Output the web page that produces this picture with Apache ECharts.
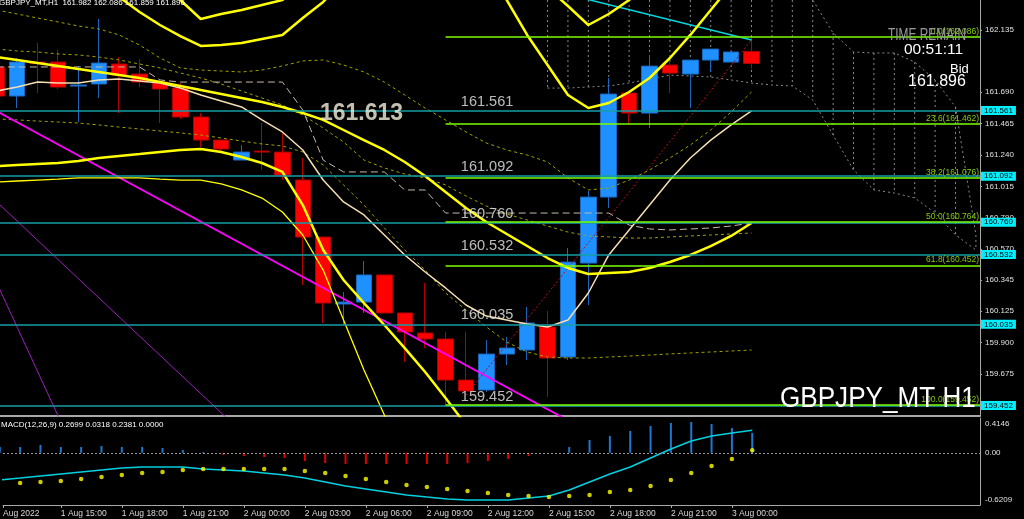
<!DOCTYPE html>
<html>
<head>
<meta charset="utf-8">
<script src="https://cdn.jsdelivr.net/npm/echarts@6/dist/echarts.min.js"></script>
<style>
html,body{margin:0;padding:0;background:#000;overflow:hidden}
#chart{width:1024px;height:519px}
</style>
</head>
<body>
<div id="chart"></div>
<script>
// ---------------- DATA ----------------
// H1 bars, x value = bar number (0 = 1 Aug 2022 12:00)
const barTimes = ['1 Aug 12:00','1 Aug 13:00','1 Aug 14:00','1 Aug 15:00','1 Aug 16:00','1 Aug 17:00','1 Aug 18:00','1 Aug 19:00','1 Aug 20:00','1 Aug 21:00','1 Aug 22:00','1 Aug 23:00','2 Aug 00:00','2 Aug 01:00','2 Aug 02:00','2 Aug 03:00','2 Aug 04:00','2 Aug 05:00','2 Aug 06:00','2 Aug 07:00','2 Aug 08:00','2 Aug 09:00','2 Aug 10:00','2 Aug 11:00','2 Aug 12:00','2 Aug 13:00','2 Aug 14:00','2 Aug 15:00','2 Aug 16:00','2 Aug 17:00','2 Aug 18:00','2 Aug 19:00','2 Aug 20:00','2 Aug 21:00','2 Aug 22:00','2 Aug 23:00','3 Aug 00:00','3 Aug 01:00'];
const openP  = [161.870,161.663,161.906,161.906,161.734,161.749,161.892,161.820,161.763,161.720,161.513,161.348,161.205,161.269,161.262,161.062,160.654,160.175,160.189,160.383,160.111,159.968,159.925,159.631,159.560,159.817,159.846,160.011,159.796,160.468,160.940,161.684,161.541,161.885,161.820,161.920,161.906,161.982];
const closeP = [161.663,161.906,161.895,161.727,161.742,161.899,161.813,161.763,161.713,161.513,161.348,161.284,161.262,161.262,161.098,160.654,160.182,160.189,160.383,160.111,159.975,159.925,159.631,159.553,159.817,159.860,160.039,159.789,160.475,160.940,161.677,161.541,161.877,161.827,161.920,161.999,161.978,161.896];
const lowP   = [161.634,161.577,161.684,161.713,161.477,161.649,161.541,161.727,161.470,161.498,161.298,161.255,161.205,161.134,161.062,160.311,160.039,160.025,160.111,160.111,159.760,159.860,159.452,159.553,159.546,159.739,159.774,159.510,159.774,160.168,160.862,161.470,161.434,161.684,161.577,161.835,161.906,161.859];
const highP  = [161.906,161.935,162.042,161.992,161.877,162.214,161.942,161.928,161.777,161.756,161.541,161.348,161.312,161.470,161.398,161.220,160.654,160.261,160.483,160.383,160.111,160.325,159.975,159.975,159.918,159.939,160.154,160.125,160.576,160.983,161.792,161.684,161.956,161.920,161.920,161.999,161.978,162.086];

// thick yellow moving average
const maYellow = [161.942,161.921,161.899,161.878,161.856,161.835,161.813,161.792,161.763,161.735,161.706,161.678,161.649,161.620,161.585,161.542,161.492,161.420,161.348,161.277,161.191,161.091,160.976,160.862,160.762,160.676,160.590,160.504,160.433,160.390,160.397,160.404,160.433,160.476,160.526,160.590,160.662,160.755];
// thick yellow bands
const bandUpper1 = [162.9,162.85,162.8,162.75,162.65,162.493,162.371,162.264,162.171,162.092,162.021,162.028,162.042,162.071,162.100,162.221,162.336,162.493,162.7,162.8,162.85,162.85,162.8,162.7,162.565,162.350,162.100,161.885,161.670,161.577,161.613,161.692,161.792,161.935,162.100,162.278,162.457,162.636];
const bandUpper2 = [163.2,163.1,163.0,162.9,162.8,162.7,162.62,162.56,162.529,162.350,162.214,162.250,162.278,162.314,162.350,162.457,162.6,162.75,162.9,163.0,163.05,163.05,163.0,162.95,162.85,162.75,162.636,162.436,162.307,162.171,162.250,162.350,162.493,162.65,162.8,162.95,163.1,163.25];
const bandLower1 = [161.162,161.170,161.177,161.184,161.198,161.220,161.234,161.248,161.263,161.277,161.284,161.263,161.227,161.184,161.120,160.883,160.562,160.347,160.182,160.025,159.860,159.689,159.503,159.310,159.131];
const bandLower2 = [161.048,161.055,161.062,161.069,161.077,161.077,161.077,161.077,161.069,161.062,161.062,161.034,160.991,160.933,160.833,160.669,160.418,160.061,159.703,159.381,159.059];
// thin wheat line
const maWheat = [161.699,161.728,161.763,161.756,161.756,161.778,161.785,161.771,161.756,161.720,161.670,161.627,161.585,161.492,161.406,161.277,161.062,160.905,160.812,160.669,160.526,160.404,160.290,160.168,160.089,160.061,160.032,160.011,160.061,160.254,160.526,160.705,160.883,161.062,161.220,161.348,161.456,161.556];
// dashed stepped line
const kijun = [161.871,161.871,161.871,161.871,161.871,161.871,161.871,161.871,161.778,161.763,161.763,161.763,161.763,161.763,161.763,161.563,161.205,161.120,161.120,161.120,160.991,160.991,160.826,160.826,160.826,160.826,160.826,160.826,160.826,160.826,160.826,160.740,160.712,160.705,160.712,160.719,160.733,160.755];
// olive dotted envelopes
const envUpper = [162.278,162.250,162.221,162.193,162.164,162.143,162.100,162.028,161.935,161.864,161.849,161.842,161.835,161.849,161.878,161.914,161.921,161.885,161.835,161.763,161.670,161.577,161.492,161.406,161.327,161.277,161.241,161.191,161.077,160.991,161.005,161.062,161.134,161.220,161.313,161.420,161.549,161.692];
const envMid = [162.000,161.985,161.978,161.964,161.957,161.942,161.921,161.892,161.864,161.828,161.792,161.749,161.699,161.649,161.599,161.527,161.434,161.334,161.205,161.148,161.105,161.077,161.027,160.948,160.876,160.819,160.776,160.733,160.690,160.662,160.655,160.647,160.647,160.655,160.662,160.669,160.676,160.683];
const envLower = [161.499,161.492,161.484,161.477,161.470,161.456,161.441,161.427,161.413,161.399,161.384,161.363,161.341,161.320,161.306,161.263,161.170,161.027,160.883,160.719,160.562,160.418,160.254,160.132,160.011,159.903,159.832,159.796,159.789,159.789,159.796,159.803,159.810,159.818,159.825,159.832,159.839,159.846];
// dotted cloud (bars 27..48)
const cloudBars  = [27,28,29,30,31,32,33,34,35,36,37,38,39,40,41,42,43,44,45,46,47,48];
const cloudUpper = [162.45,162.45,162.45,162.45,162.45,162.45,162.45,162.45,162.45,162.45,162.45,162.45,162.45,162.35,162.114,161.978,161.971,161.971,161.906,161.778,161.585,160.669];
const cloudLower = [161.720,161.720,161.728,161.735,161.756,161.785,161.813,161.806,161.799,161.778,161.756,161.742,161.735,161.635,161.384,161.134,160.991,160.969,160.934,160.826,160.669,160.562];
// trend lines [bar, price]
const trendMagenta = [[0,161.554],[30,159.185]];
const trendPurpleA = [[0,160.905],[12,159.26]];
const trendPurpleB = [[0,160.325],[4,159.06]];
const trendRedDot  = [[23,159.524],[37,162.064]];
const trendCyan    = [[28,162.389],[37,162.064]];
// horizontal levels
const levelValues = [161.561,161.092,160.760,160.532,160.035,159.452];
const pivotLabel = 161.613;
const fibRatios = ['0.0','23.6','38.2','50.0','61.8','100.0'];
const fibValues = [162.086,161.462,161.076,160.764,160.452,159.452];
const bidPrice = 161.896;
// axis ticks
const priceTicks = [162.135,161.690,161.465,161.240,161.015,160.790,160.570,160.345,160.125,159.900,159.675];
const timeTickBars = [0,3,6,9,12,15,18,21,24,27,30,33,36];
const timeTickLabels = ['Aug 2022','1 Aug 15:00','1 Aug 18:00','1 Aug 21:00','2 Aug 00:00','2 Aug 03:00','2 Aug 06:00','2 Aug 09:00','2 Aug 12:00','2 Aug 15:00','2 Aug 18:00','2 Aug 21:00','3 Aug 00:00'];
// MACD(12,26,9)
const macdHist = [0.069,0.069,0.093,0.069,0.069,0.081,0.069,0.069,0.058,0.034,0.010,-0.026,-0.038,-0.050,-0.061,-0.097,-0.121,-0.133,-0.133,-0.133,-0.133,-0.133,-0.133,-0.121,-0.097,-0.073,-0.038,-0.002,0.069,0.153,0.200,0.260,0.319,0.355,0.367,0.343,0.295,0.2381];
const macdLine = [-0.323,-0.300,-0.276,-0.252,-0.228,-0.204,-0.181,-0.169,-0.169,-0.169,-0.192,-0.204,-0.216,-0.240,-0.264,-0.300,-0.347,-0.395,-0.430,-0.466,-0.502,-0.526,-0.549,-0.561,-0.561,-0.561,-0.537,-0.514,-0.442,-0.347,-0.252,-0.169,-0.061,0.046,0.141,0.200,0.236,0.2699];
const macdSignal = [-0.371,-0.359,-0.347,-0.335,-0.311,-0.288,-0.264,-0.240,-0.228,-0.204,-0.192,-0.192,-0.192,-0.192,-0.192,-0.216,-0.240,-0.276,-0.311,-0.347,-0.383,-0.407,-0.430,-0.454,-0.478,-0.502,-0.514,-0.526,-0.514,-0.502,-0.466,-0.442,-0.395,-0.323,-0.240,-0.157,-0.073,0.0318];
const macdMax = 0.4146, macdMin = -0.6209;

// ---------------- LAYOUT ----------------
const XMIN = 0.157, XMAX = 48.2;
const YMIN = 159.374, YMAX = 162.350;
const FIB_START = 22;
const LEVEL_LABEL_X = 22.75;
const PIVOT_LABEL_X = 15.84;
const FONT = '"Liberation Sans", Arial, sans-serif';

const pts = (arr, start) => arr.map((v, k) => [(start || 0) + k, v]);
function lineS(data, color, width, type, z) {
  return {type:'line', xAxisIndex:0, yAxisIndex:0, data:data, symbol:'none', showSymbol:false,
    silent:true, clip:true, z:z || 3, animation:false,
    lineStyle:{color:color, width:width, type:type || 'solid'}};
}

const candleData = barTimes.map((t, k) => [k, openP[k], closeP[k], lowP[k], highP[k]]);
const cloudData = cloudBars.map((b, k) => [b, cloudUpper[k], cloudLower[k]]);

const levelLines = levelValues.map(v => ({
  yAxis: v,
  lineStyle:{color:'#169ea6', width:1.5, type:'solid'},
  label:{show:true, position:'end', formatter: v.toFixed(3), color:'#000', backgroundColor:'#00f0ff',
    fontSize:8, fontFamily:FONT, padding:[1,3,0,3], distance:1}
}));
levelLines.push({
  yAxis: bidPrice,
  lineStyle:{width:0, opacity:0},
  label:{show:true, position:'end', formatter: bidPrice.toFixed(3), color:'#000', backgroundColor:'#ffffff',
    fontSize:8, fontFamily:FONT, padding:[1,3,0,3], distance:1}
});

const fibLines = fibValues.map((v, k) => [
  {coord:[FIB_START, v], lineStyle:{color:'#7cfc00', width:1.5, type:'solid'},
   label:{show:true, position:'insideEndTop', formatter: fibRatios[k] + '(' + v.toFixed(3) + ')',
     color:'#86cc10', fontSize:8.5, fontFamily:FONT, distance:1}},
  {coord:[XMAX, v]}
]);

const chart = echarts.init(document.getElementById('chart'), null, {renderer:'canvas'});
chart.setOption({
  backgroundColor:'#000000',
  animation:false,
  grid:[
    {left:0, right:44, top:0, height:416},
    {left:0, right:44, top:418, height:87}
  ],
  xAxis:[
    {type:'value', gridIndex:0, min:XMIN, max:XMAX,
      axisLine:{show:true, onZero:false, lineStyle:{color:'#a8a8a8', width:2}},
      axisTick:{show:false}, axisLabel:{show:false}, splitLine:{show:false}},
    {type:'value', gridIndex:1, min:XMIN, max:XMAX,
      axisLine:{show:true, onZero:false, lineStyle:{color:'#a8a8a8', width:1}},
      axisTick:{show:true, customValues: timeTickBars.map(b => Math.max(b, XMIN)), length:3, lineStyle:{color:'#a8a8a8'}},
      axisLabel:{show:true, customValues: timeTickBars.map(b => Math.max(b, XMIN)),
        formatter: function (v) {
          let best = 0;
          timeTickBars.forEach((b, k) => { if (Math.abs(Math.max(b, XMIN) - v) < Math.abs(Math.max(timeTickBars[best], XMIN) - v)) best = k; });
          return timeTickLabels[best];
        },
        align:'left', color:'#d8d8d8', fontSize:8.5, fontFamily:FONT, margin:4},
      splitLine:{show:false}}
  ],
  yAxis:[
    {type:'value', gridIndex:0, position:'right', min:YMIN, max:YMAX,
      axisLine:{show:true, lineStyle:{color:'#a8a8a8', width:1}},
      axisTick:{show:true, customValues: priceTicks, length:2, lineStyle:{color:'#a8a8a8'}},
      axisLabel:{show:true, customValues: priceTicks, formatter: v => v.toFixed(3),
        color:'#e0e0e0', fontSize:8, fontFamily:FONT, margin:5},
      splitLine:{show:false}},
    {type:'value', gridIndex:1, position:'right', min:macdMin, max:macdMax,
      axisLine:{show:true, lineStyle:{color:'#a8a8a8', width:1}},
      axisTick:{show:false},
      axisLabel:{show:true, customValues:[macdMax, 0, macdMin],
        formatter: v => (Math.abs(v) < 1e-9 ? '{m|0.00}' : (v > 0 ? '{t|' + v.toFixed(4) + '}' : '{b|' + v.toFixed(4) + '}')),
        rich:{
          t:{color:'#e0e0e0', fontSize:8, fontFamily:FONT, padding:[12,0,0,0]},
          m:{color:'#e0e0e0', fontSize:8, fontFamily:FONT},
          b:{color:'#e0e0e0', fontSize:8, fontFamily:FONT, padding:[0,0,10,0]}
        },
        color:'#e0e0e0', fontSize:8, fontFamily:FONT, margin:5},
      splitLine:{show:false}}
  ],
  series:[
    // dotted cloud verticals
    {type:'custom', xAxisIndex:0, yAxisIndex:0, data:cloudData, silent:true, z:1,
      renderItem:function (params, api) {
        const cs = params.coordSys;
        const p1 = api.coord([api.value(0), api.value(1)]);
        const p2 = api.coord([api.value(0), api.value(2)]);
        const clampY = y => Math.max(cs.y, Math.min(cs.y + cs.height, y));
        return {type:'line', shape:{x1:p1[0], y1:clampY(p1[1]), x2:p2[0], y2:clampY(p2[1])},
          style:{stroke:'#8a8a8a', lineWidth:1, lineDash:[2,3]}};
      }},
    lineS(pts(cloudUpper, 27), '#8a8a8a', 1, [2,3], 1),
    lineS(pts(cloudLower, 27), '#8a8a8a', 1, [2,3], 1),
    // candles
    {type:'candlestick', xAxisIndex:0, yAxisIndex:0, data:candleData, barWidth:16, silent:true, z:2,
      itemStyle:{color:'#1e90ff', color0:'#ff0000', borderColor:'#1c66bd', borderColor0:'#b00000', borderWidth:1}},
    // trend lines
    lineS(trendPurpleA, '#9a1fb8', 1, 'solid', 3),
    lineS(trendPurpleB, '#9a1fb8', 1, 'solid', 3),
    lineS(trendMagenta, '#ff00ff', 1.8, 'solid', 4),
    lineS(trendRedDot, '#b01010', 1, [2,2], 4),
    lineS(trendCyan, '#00d8e0', 1.5, 'solid', 4),
    // indicators
    lineS(pts(envUpper), '#a0a000', 1, [3,3], 3),
    lineS(pts(envMid), '#a0a000', 1, [3,3], 3),
    lineS(pts(envLower), '#a0a000', 1, [3,3], 3),
    lineS(pts(kijun), '#c8b8a8', 1, [7,4], 3),
    lineS(pts(maWheat), '#f5deb3', 1.5, 'solid', 4),
    lineS(pts(bandLower2), '#ffff00', 1.3, 'solid', 4),
    lineS(pts(bandUpper1), '#ffff00', 2.5, 'solid', 4),
    lineS(pts(bandUpper2), '#ffff00', 2.5, 'solid', 4),
    lineS(pts(bandLower1), '#ffff00', 2.5, 'solid', 4),
    lineS(pts(maYellow), '#ffff00', 2.5, 'solid', 4),
    // horizontal levels + price boxes
    {type:'line', xAxisIndex:0, yAxisIndex:0, data:[], z:5, silent:true,
      markLine:{silent:true, symbol:['none','none'], animation:false, data:levelLines}},
    // fibonacci
    {type:'line', xAxisIndex:0, yAxisIndex:0, data:[], z:6, silent:true,
      markLine:{silent:true, symbol:['none','none'], animation:false, data:fibLines}},
    // level text labels
    {type:'scatter', xAxisIndex:0, yAxisIndex:0, symbolSize:0, z:7, silent:true,
      itemStyle:{color:'rgba(0,0,0,0)'},
      data: levelValues.map(v => [LEVEL_LABEL_X, v]),
      label:{show:true, position:[0,0], align:'left', verticalAlign:'bottom', offset:[0,-1],
        formatter: p => p.value[1].toFixed(3), color:'#e8e8e8', fontSize:14.5, fontFamily:FONT}},
    {type:'scatter', xAxisIndex:0, yAxisIndex:0, symbolSize:0, z:7, silent:true,
      itemStyle:{color:'rgba(0,0,0,0)'},
      data: [[PIVOT_LABEL_X, pivotLabel]],
      label:{show:true, position:[0,0], align:'left', verticalAlign:'top', offset:[0,-1],
        formatter: p => p.value[1].toFixed(3), color:'#f4f0dc', fontSize:23, fontWeight:'bold', fontFamily:FONT}},
    // MACD
    {type:'bar', xAxisIndex:1, yAxisIndex:1, data:pts(macdHist), barWidth:2, silent:true, z:2,
      itemStyle:{color: p => (p.value[1] >= 0 ? '#1e78d0' : '#e00000')},
      markLine:{silent:true, symbol:['none','none'], animation:false, label:{show:false},
        data:[{yAxis:0, lineStyle:{color:'#9a9a9a', width:1, type:[2,2]}}]}},
    {type:'line', xAxisIndex:1, yAxisIndex:1, data:pts(macdLine), symbol:'none', silent:true, z:3,
      lineStyle:{color:'#00d0e0', width:1.5}},
    {type:'scatter', xAxisIndex:1, yAxisIndex:1, data:pts(macdSignal), symbolSize:4.5, silent:true, z:4,
      itemStyle:{color:'#ffff00'}}
  ],
  graphic:[
    {type:'text', x:-1, y:-1, z:100, style:{text:'GBPJPY_MT,H1  ' + [openP[37], highP[37], lowP[37], closeP[37]].map(v => v.toFixed(3)).join(' '),
      fill:'#ffffff', font:'8px ' + FONT}},
    {type:'text', x:1, y:421, z:100, style:{text:'MACD(12,26,9) ' + [macdLine[37].toFixed(4), macdSignal[37].toFixed(4), macdHist[37].toFixed(4), '0.0000'].join(' '),
      fill:'#ffffff', font:'8px ' + FONT}},
    {type:'text', x:888, y:27, scaleX:0.7, z:100, style:{text:'TIME REMAIN', fill:'#9a9a9a', font:'17px ' + FONT}},
    {type:'text', x:904, y:41.5, z:100, style:{text:'00:51:11', fill:'#ffffff', font:'15.5px ' + FONT}},
    {type:'text', x:950, y:62.5, z:100, style:{text:'Bid', fill:'#ffffff', font:'13px ' + FONT}},
    {type:'text', x:908, y:73.5, z:100, style:{text:bidPrice.toFixed(3), fill:'#ffffff', font:'16px ' + FONT}},
    {type:'text', x:780, y:384, scaleX:0.87, z:100, style:{text:'GBPJPY_MT H1', fill:'#ffffff', font:'30px ' + FONT}}
  ]
});
</script>
</body>
</html>
